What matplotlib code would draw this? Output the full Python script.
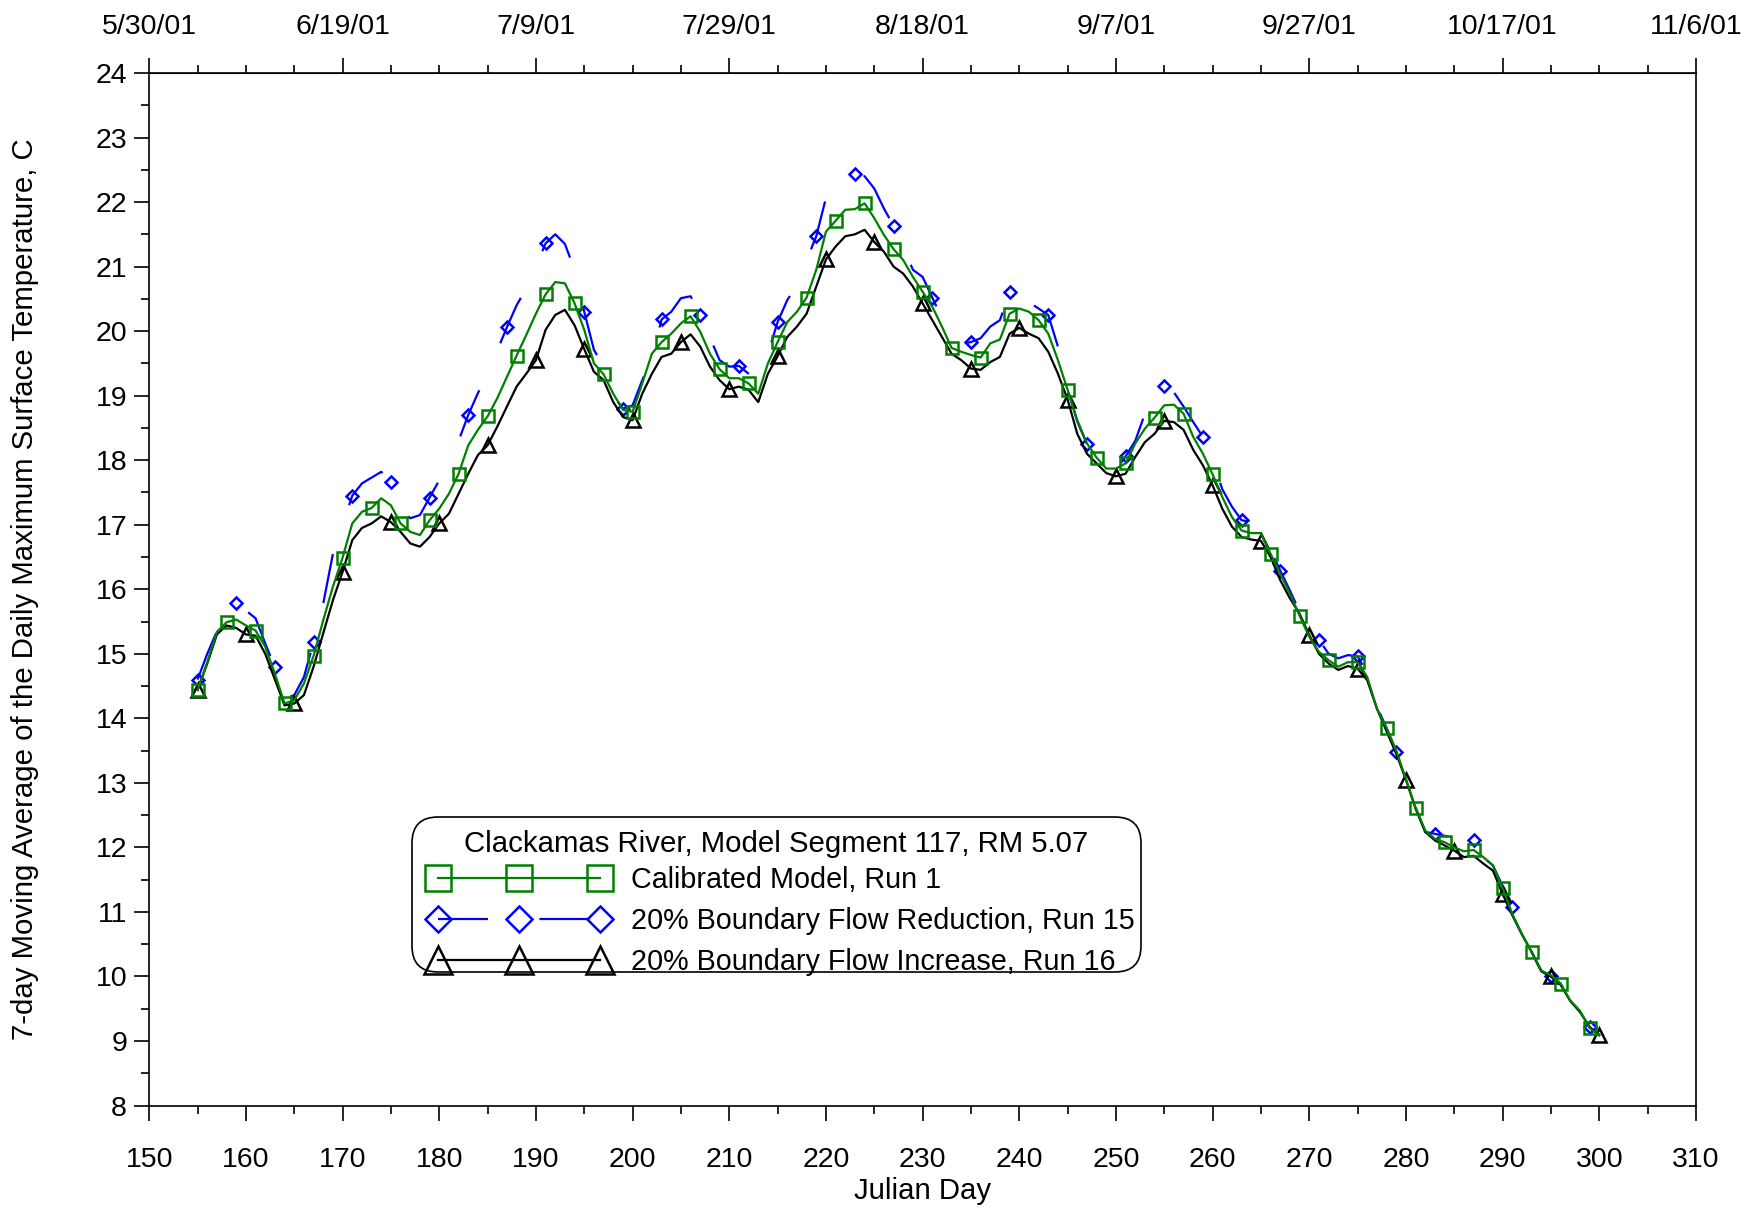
import numpy as np
import matplotlib
matplotlib.use('Agg')
import matplotlib.pyplot as plt
from matplotlib.ticker import MultipleLocator
from matplotlib.patches import FancyBboxPatch
from matplotlib.transforms import IdentityTransform

plt.rcParams['font.family'] = ['Liberation Sans', 'DejaVu Sans']
plt.rcParams['lines.scale_dashes'] = False

# Julian days (daily values), 2001
days = list(range(155, 301))

calibrated = [
    14.44, 14.87, 15.34, 15.49, 15.53, 15.44, 15.36, 15.11, 14.69, 14.23,
    14.28, 14.54, 14.97, 15.52, 16.04, 16.49, 17.02, 17.20, 17.26, 17.41,
    17.30, 17.02, 16.89, 16.84, 17.07, 17.25, 17.48, 17.79, 18.23, 18.47,
    18.68, 18.96, 19.29, 19.62, 19.94, 20.27, 20.57, 20.76, 20.74, 20.43,
    20.02, 19.50, 19.33, 19.03, 18.78, 18.75, 19.19, 19.65, 19.83, 19.96,
    20.12, 20.23, 19.99, 19.65, 19.41, 19.27, 19.27, 19.19, 19.03, 19.50,
    19.83, 20.14, 20.30, 20.52, 20.95, 21.54, 21.71, 21.88, 21.89, 21.98,
    21.75, 21.49, 21.27, 21.10, 20.84, 20.61, 20.38, 20.07, 19.74, 19.68,
    19.63, 19.59, 19.81, 19.87, 20.27, 20.35, 20.30, 20.17, 19.96, 19.55,
    19.09, 18.62, 18.26, 18.04, 17.87, 17.87, 17.95, 18.26, 18.49, 18.66,
    18.85, 18.86, 18.72, 18.36, 18.10, 17.78, 17.43, 17.12, 16.91, 16.87,
    16.87, 16.55, 16.24, 15.93, 15.59, 15.26, 15.03, 14.90, 14.80, 14.87,
    14.87, 14.64, 14.15, 13.85, 13.50, 13.06, 12.61, 12.26, 12.13, 12.08,
    12.00, 11.94, 11.96, 11.85, 11.72, 11.37, 10.97, 10.66, 10.38, 10.09,
    10.02, 9.89, 9.63, 9.47, 9.20, 9.09,
]

flow_reduction = [
    14.60, 15.00, 15.35, 15.65, 15.78, 15.67, 15.55, 15.16, 14.79, 14.30,
    14.36, 14.64, 15.18, 15.78, 16.55, 17.00, 17.45, 17.64, 17.73, 17.82,
    17.66, 17.25, 17.10, 17.15, 17.42, 17.69, 18.00, 18.30, 18.70, 19.04,
    19.35, 19.70, 20.06, 20.40, 20.66, 21.00, 21.36, 21.50, 21.35, 20.95,
    20.30, 19.71, 19.45, 19.00, 18.80, 18.85, 19.24, 19.60, 20.18, 20.30,
    20.51, 20.54, 20.25, 19.90, 19.55, 19.45, 19.46, 19.34, 19.24, 19.65,
    20.14, 20.48, 20.71, 21.10, 21.47, 22.06, 22.26, 22.40, 22.43, 22.40,
    22.21, 21.90, 21.63, 21.30, 20.95, 20.84, 20.52, 20.20, 19.90, 19.80,
    19.83, 19.89, 20.07, 20.17, 20.61, 20.60, 20.45, 20.35, 20.25, 19.76,
    19.10, 18.60, 18.25, 18.00, 17.85, 17.85, 18.06, 18.30, 18.72, 18.90,
    19.15, 19.05, 18.83, 18.59, 18.36, 18.00, 17.55, 17.28, 17.07, 17.04,
    17.04, 16.60, 16.29, 15.98, 15.65, 15.35, 15.22, 15.00, 14.93, 14.98,
    14.96, 14.70, 14.18, 13.85, 13.48, 13.05, 12.62, 12.24, 12.21, 12.18,
    12.15, 12.06, 12.11, 11.85, 11.72, 11.40, 11.07, 10.66, 10.38, 10.09,
    10.00, 9.89, 9.63, 9.47, 9.21, 9.10,
]

flow_increase = [
    14.44, 14.85, 15.30, 15.44, 15.40, 15.30, 15.28, 15.00, 14.60, 14.20,
    14.23, 14.36, 14.80, 15.32, 15.83, 16.27, 16.76, 16.95, 17.02, 17.13,
    17.04, 16.89, 16.71, 16.66, 16.81, 17.02, 17.17, 17.48, 17.79, 18.08,
    18.23, 18.52, 18.83, 19.14, 19.34, 19.55, 20.02, 20.25, 20.33, 20.09,
    19.72, 19.37, 19.24, 18.90, 18.67, 18.62, 19.03, 19.34, 19.60, 19.65,
    19.83, 19.95, 19.76, 19.45, 19.24, 19.10, 19.14, 19.09, 18.90, 19.34,
    19.61, 19.91, 20.07, 20.27, 20.69, 21.11, 21.31, 21.47, 21.50, 21.57,
    21.38, 21.23, 21.00, 20.89, 20.69, 20.43, 20.17, 19.91, 19.65, 19.55,
    19.42, 19.40, 19.52, 19.60, 19.96, 20.05, 19.96, 19.89, 19.68, 19.34,
    18.94, 18.41, 18.10, 17.95, 17.80, 17.75, 17.79, 18.05, 18.28, 18.41,
    18.61, 18.59, 18.47, 18.16, 17.92, 17.61, 17.25, 16.97, 16.81, 16.77,
    16.75, 16.50, 16.14, 15.86, 15.62, 15.29, 15.00, 14.85, 14.75, 14.81,
    14.77, 14.59, 14.15, 13.80, 13.45, 13.05, 12.60, 12.24, 12.11, 12.03,
    11.95, 11.85, 11.87, 11.75, 11.64, 11.28, 10.95, 10.65, 10.38, 10.08,
    10.00, 9.87, 9.62, 9.45, 9.22, 9.09,
]

top_ticks = list(range(150, 311, 20))
top_labels = ['5/30/01', '6/19/01', '7/9/01', '7/29/01', '8/18/01',
              '9/7/01', '9/27/01', '10/17/01', '11/6/01']

legend_title = 'Clackamas River, Model Segment 117, RM 5.07'
names = ['Calibrated Model, Run 1',
         '20% Boundary Flow Reduction, Run 15',
         '20% Boundary Flow Increase, Run 16']

FS = 20.5      # tick labels
FS_LAB = 21.2  # axis labels, legend title
FS_LEG = 20.7  # legend entries

W, H = 1760, 1208
fig = plt.figure(figsize=(W / 100, H / 100), dpi=100)
ax = fig.add_axes([0.0848, 0.0848, 0.8788, 0.8548])

l_red, = ax.plot(days, flow_reduction, color='#0000ff', lw=1.6, dashes=(36, 37),
                 marker='D', ms=6.2, mfc='none', mec='#0000ff', mew=1.8,
                 markevery=4, zorder=2)
l_inc, = ax.plot(days, flow_increase, color='black', lw=1.6,
                 marker='^', ms=9.5, mfc='none', mec='black', mew=1.8,
                 markevery=5, zorder=3)
l_cal, = ax.plot(days, calibrated, color='#008000', lw=1.6,
                 marker='s', ms=9, mfc='none', mec='#008000', mew=1.8,
                 markevery=3, zorder=4)

ax.set_xlim(150, 310)
ax.set_ylim(8, 24)
ax.xaxis.set_major_locator(MultipleLocator(10))
ax.xaxis.set_minor_locator(MultipleLocator(5))
ax.yaxis.set_major_locator(MultipleLocator(1))
ax.yaxis.set_minor_locator(MultipleLocator(0.5))
ax.tick_params(which='both', direction='out', width=1.2, labelsize=FS,
               top=False, right=False)
ax.tick_params(which='major', length=11)
ax.tick_params(which='minor', length=6)
ax.tick_params(axis='x', which='major', pad=18.5)
ax.tick_params(axis='y', which='major', pad=5)
for s in ax.spines.values():
    s.set_linewidth(1.2)

ax.set_xlabel('Julian Day', fontsize=FS_LAB)
ax.xaxis.set_label_coords(0.5, -0.0693)
ax.set_ylabel('7-day Moving Average of the Daily Maximum Surface Temperature, C',
              fontsize=FS_LAB)
ax.yaxis.set_label_coords(-0.071, 0.5)

top = ax.secondary_xaxis('top')
top.set_xticks(top_ticks)
top.set_xticklabels(top_labels)
top.xaxis.set_minor_locator(MultipleLocator(5))
top.tick_params(which='both', direction='out', width=1.2, labelsize=FS)
top.tick_params(which='major', length=11, pad=13)
top.tick_params(which='minor', length=6)

# legend: rounded frame + title drawn separately, entries via ax.legend
box_l, box_r, box_t, box_b = 412, 1141, 817, 972   # pixels from top-left
frame = FancyBboxPatch((box_l, H - box_b), box_r - box_l, box_b - box_t,
                       boxstyle='round,pad=0,rounding_size=26',
                       transform=IdentityTransform(), facecolor='white',
                       edgecolor='black', linewidth=1.2, zorder=5,
                       clip_on=False)
ax.add_artist(frame)
ax.text((box_l + box_r) / 2 / W, (H - 844) / H, legend_title,
        transform=fig.transFigure, fontsize=FS_LAB, ha='center', va='center',
        zorder=6)

leg = ax.legend([l_cal, l_red, l_inc], names,
                loc='upper left', bbox_to_anchor=(423.3 / W, (H - 860) / H),
                bbox_transform=fig.transFigure,
                fontsize=FS_LEG, numpoints=3, markerscale=2.1,
                handlelength=6.25, handletextpad=0.78, labelspacing=0.45,
                borderpad=0.2, borderaxespad=0, frameon=False)
leg.set_zorder(7)

fig.savefig('out.png', dpi=100)
